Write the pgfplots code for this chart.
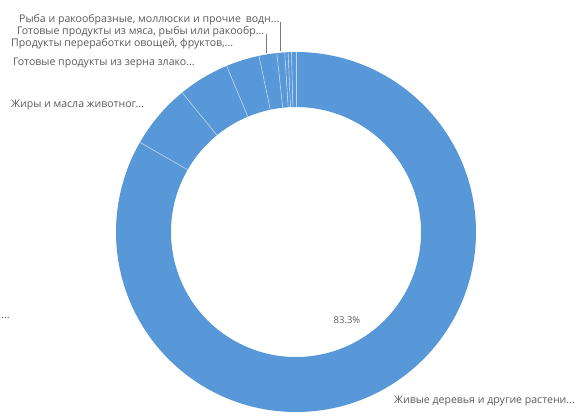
\documentclass[border=0pt]{standalone}
\usepackage{pgfplots}
\usepackage{pgfplotstable}
\pgfplotsset{compat=1.18}
\usepackage{fontspec}
\setmainfont{Open Sans}
\definecolor{pieblue}{RGB}{88,152,216}
\definecolor{sepcol}{RGB}{190,214,240}
\definecolor{labgray}{RGB}{90,90,90}
\definecolor{leadgray}{RGB}{120,120,120}
\tikzset{lab/.style={font=\fontsize{10.6}{13}\selectfont, text=labgray, inner sep=0pt}}

\pgfplotstableread{
v
83.3
5.8
4.6
3.0
1.6
0.7
0.3
0.3
0.4
}\piedata

\begin{document}
\begin{tikzpicture}
\begin{axis}[
  hide axis,
  x=1bp, y=1bp,
  xmin=-296, xmax=281, ymin=-184, ymax=232,
  clip=false,
]
\def\ang{90}
\pgfplotsforeachungrouped \i in {0,...,8} {
  \pgfplotstablegetelem{\i}{v}\of\piedata
  \pgfmathsetmacro\a{\ang}
  \pgfmathsetmacro\b{\ang - 3.6*\pgfplotsretval}
  \edef\temp{\noexpand\fill[pieblue] (axis cs:{180*cos(\a)},{180*sin(\a)}) arc[start angle=\a, end angle=\b, radius=180bp] -- (axis cs:{125*cos(\b)},{125*sin(\b)}) arc[start angle=\b, end angle=\a, radius=125bp] -- cycle;}
  \temp
  \xdef\ang{\b}
}
\def\ang{90}
\pgfplotsforeachungrouped \i in {0,...,8} {
  \pgfplotstablegetelem{\i}{v}\of\piedata
  \pgfmathsetmacro\a{\ang}
  \pgfmathsetmacro\b{\ang - 3.6*\pgfplotsretval}
  \edef\temp{\noexpand\draw[sepcol, line width=0.6bp] (axis cs:{125*cos(\a)},{125*sin(\a)}) -- (axis cs:{180*cos(\a)},{180*sin(\a)});}
  \temp
  \xdef\ang{\b}
}
% leader lines
\draw[leadgray, line width=0.6bp] (axis cs:-16,210) -- (axis cs:-16,181);
\draw[leadgray, line width=0.6bp] (axis cs:-30,198) -- (axis cs:-30,179);
% labels
\node[lab, anchor=west] at (axis cs:-277,212) {Рыба и ракообразные, моллюски и прочие\hspace{0.2em} водн...};
\node[lab, anchor=west] at (axis cs:-279,200) {Готовые продукты из мяса, рыбы или ракообр...};
\node[lab, anchor=west] at (axis cs:-285,188) {Продукты переработки овощей, фруктов,...};
\node[lab, anchor=west] at (axis cs:-283,169) {Готовые продукты из зерна злако...};
\node[lab, anchor=west] at (axis cs:-285,127) {Жиры и масла животног...};
\node[lab, anchor=west] at (axis cs:98,-169) {Живые деревья и другие растени...};
\node[lab, anchor=east] at (axis cs:-286,-86) {...};
\node[lab, font=\fontsize{9.5}{11}\selectfont] at (axis cs:51,-88) {83.3\%};
\end{axis}
\pgfresetboundingbox
\path (current axis.south west) rectangle (current axis.north east);
\end{tikzpicture}
\end{document}
